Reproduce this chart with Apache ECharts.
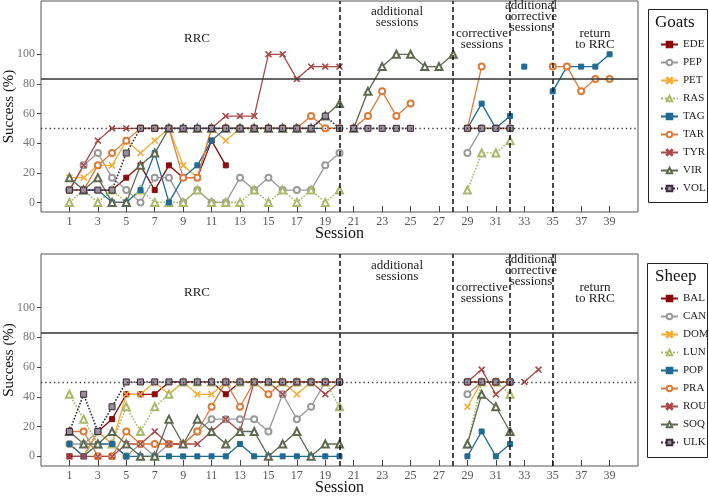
<!DOCTYPE html>
<html>
<head>
<meta charset="utf-8">
<script src="https://cdn.jsdelivr.net/npm/echarts@6/dist/echarts.min.js"></script>
<style>
html, body { margin: 0; padding: 0; background: #fff; }
#chart { width: 709px; height: 498px; }
</style>
</head>
<body>
<div id="chart"></div>
<script>
const _ = null

// sessions and phases
const sessions = [1, 2, 3, 4, 5, 6, 7, 8, 9, 10, 11, 12, 13, 14, 15, 16, 17, 18, 19, 20,
    21, 22, 23, 24, 25, 26, 27, 28, 29, 30, 31, 32, 33, 34, 35, 36, 37, 38, 39]
const phaseStarts = [21, 29, 33, 35]
const phaseBounds = [20, 28, 32, 35]
const xTicks = [1, 3, 5, 7, 9, 11, 13, 15, 17, 19, 21, 23, 25, 27, 29, 31, 33, 35, 37, 39]
const yTicks = [0, 20, 40, 60, 80, 100]
const criterion = 83.3
const chance = 50

// goats                 1-20 | 21-28 | 29-32 | 33-34 | 35-39
const EDE = [8.3, 8.3, 8.3, 8.3, 16.7, 25, 8.3, 25, 16.7, 16.7, 41.7, 25, _, _, _, _, _, _, _, _,
    _, _, _, _, _, _, _, _, _, _, _, _, _, _, _, _, _, _, _]
const PEP = [8.3, 25, 33.3, 16.7, 8.3, 0, 16.7, 16.7, 0, 8.3, 0, 0, 16.7, 8.3, 16.7, 8.3, 8.3, 8.3, 25, 33.3,
    _, _, _, _, _, _, _, _, 33.3, 50, 50, 50, _, _, _, _, _, _, _]
const PET = [16.7, 16.7, 25, 25, 41.7, 33.3, 41.7, 50, 25, 16.7, 50, 41.7, 50, 50, 50, 50, 50, 50, 50, 50,
    _, _, _, _, _, _, _, _, 50, 50, 50, 50, _, _, _, _, _, _, _]
const RAS = [0, 8.3, 0, 8.3, 0, 8.3, 0, 0, 0, 8.3, 0, 0, 0, 8.3, 0, 8.3, 0, 8.3, 0, 8.3,
    _, _, _, _, _, _, _, _, 8.3, 33.3, 33.3, 41.7, _, _, _, _, _, _, _]
const TAG = [8.3, 8.3, 8.3, 0, 0, 8.3, 33.3, 0, 16.7, 25, 41.7, 50, 50, 50, 50, 50, 50, 50, 50, 50,
    _, _, _, _, _, _, _, _, 50, 66.7, 50, 58.3, 91.7, _, 75, 91.7, 91.7, 91.7, 100]
const TAR = [8.3, 8.3, 25, 33.3, 41.7, 50, 50, 50, 16.7, 16.7, 50, 50, 50, 50, 50, 50, 50, 58.3, 50, 50,
    50, 58.3, 75, 58.3, 66.7, _, _, _, 50, 91.7, _, _, _, _, 91.7, 91.7, 75, 83.3, 83.3]
const TYR = [8.3, 25, 41.7, 50, 50, 50, 50, 50, 50, 50, 50, 58.3, 58.3, 58.3, 100, 100, 83.3, 91.7, 91.7, 91.7,
    _, _, _, _, _, _, _, _, _, _, _, _, _, _, _, _, _, _, _]
const VIR = [16.7, 8.3, 16.7, 0, 0, 25, 33.3, 50, 50, 50, 50, 50, 50, 50, 50, 50, 50, 50, 58.3, 66.7,
    50, 75, 91.7, 100, 100, 91.7, 91.7, 100, _, _, _, _, _, _, _, _, _, _, _]
const VOL = [8.3, 8.3, 8.3, 8.3, 33.3, 50, 50, 50, 50, 50, 50, 50, 50, 50, 50, 50, 50, 50, 58.3, 50,
    50, 50, 50, 50, 50, _, _, _, 50, 50, 50, 50, _, _, _, _, _, _, _]

// sheep
const BAL = [0, 0, 16.7, 25, 41.7, 41.7, 41.7, 50, 50, 50, 50, 41.7, 50, 50, 50, 50, 50, 50, 50, 50,
    _, _, _, _, _, _, _, _, 50, 50, 50, 50, _, _, _, _, _, _, _]
const CAN = [8.3, 8.3, 16.7, 8.3, 0, 8.3, 0, 8.3, 8.3, 16.7, 25, 25, 25, 25, 16.7, 41.7, 25, 33.3, 50, 50,
    _, _, _, _, _, _, _, _, 41.7, 50, 50, 50, _, _, _, _, _, _, _]
const DOM = [8.3, 0, 16.7, 8.3, 41.7, 41.7, 50, 41.7, 50, 41.7, 41.7, 50, 50, 50, 50, 50, 41.7, 50, 50, 50,
    _, _, _, _, _, _, _, _, 33.3, 50, 50, 50, _, _, _, _, _, _, _]
const LUN = [41.7, 25, 8.3, 8.3, 33.3, 16.7, 33.3, 41.7, 50, 50, 50, 50, 50, 50, 50, 50, 50, 50, 50, 33.3,
    _, _, _, _, _, _, _, _, 8.3, 50, 50, 41.7, _, _, _, _, _, _, _]
const POP = [8.3, 0, 8.3, 8.3, 0, 0, 0, 0, 0, 0, 0, 0, 8.3, 0, 0, 0, 0, 0, 0, 0,
    _, _, _, _, _, _, _, _, 0, 16.7, 0, 8.3, _, _, _, _, _, _, _]
const PRA = [16.7, 16.7, 0, 0, 16.7, 8.3, 8.3, 8.3, 8.3, 16.7, 33.3, 50, 33.3, 50, 41.7, 50, 50, 50, 50, 50,
    _, _, _, _, _, _, _, _, 50, 50, 50, 50, _, _, _, _, _, _, _]
const ROU = [0, 0, 0, 0, 8.3, 8.3, 16.7, 8.3, 8.3, 8.3, 16.7, 25, 16.7, 50, 50, 41.7, 50, 50, 41.7, 50,
    _, _, _, _, _, _, _, _, 50, 58.3, 41.7, 50, 50, 58.3, _, _, _, _, _]
const SOQ = [16.7, 8.3, 8.3, 16.7, 8.3, 0, 0, 25, 8.3, 25, 16.7, 8.3, 16.7, 16.7, 0, 8.3, 16.7, 0, 8.3, 8.3,
    _, _, _, _, _, _, _, _, 8.3, 41.7, 33.3, 16.7, _, _, _, _, _, _, _]
const ULK = [16.7, 41.7, 16.7, 33.3, 50, 50, 50, 50, 50, 50, 50, 50, 50, 50, 50, 50, 50, 50, 50, 50,
    _, _, _, _, _, _, _, _, 50, 50, 50, 50, _, _, _, _, _, _, _]

const goats = { EDE, PEP, PET, RAS, TAG, TAR, TYR, VIR, VOL }
const sheep = { BAL, CAN, DOM, LUN, POP, PRA, ROU, SOQ, ULK }

// 9 styles, same order for both panels
const X_PATH = 'path://M0,1L1,0L5,4L9,0L10,1L6,5L10,9L9,10L5,6L1,10L0,9L4,5Z'
const styles = [
    { color: '#8b0b0b', symbol: 'rect', size: 5 },
    { color: '#9a9a9a', symbol: 'emptyCircle', size: 6 },
    { color: '#f6ac33', symbol: X_PATH, size: 6 },
    { color: '#a9ba6a', symbol: 'emptyTriangle', size: 7, dotted: true },
    { color: '#1f6b94', symbol: 'rect', size: 5 },
    { color: '#dc7b3a', symbol: 'emptyCircle', size: 6 },
    { color: '#a94848', symbol: X_PATH, size: 6 },
    { color: '#5e6a50', symbol: 'emptyTriangle', size: 7 },
    { color: '#3b2a3b', symbol: 'rect', size: 6, dotted: true, fill: '#9a8f9a' }
]

const FONT = 'Liberation Serif'

const toPoints = values => {
    const pts = []
    values.forEach((v, i) => {
        const s = sessions[i]
        if (phaseStarts.includes(s)) pts.push([s - 0.5, '-'])
        pts.push([s, v === null ? '-' : v])
    })
    return pts
}

const makeSeries = (group, gi) => Object.keys(group).map((name, k) => {
    const st = styles[k]
    return {
        name,
        type: 'line',
        xAxisIndex: gi,
        yAxisIndex: gi,
        data: toPoints(group[name]),
        connectNulls: false,
        symbol: st.symbol,
        symbolSize: st.size,
        showAllSymbol: true,
        lineStyle: { color: st.color, width: st.dotted ? 1.6 : 1.3, type: st.dotted ? 'dotted' : 'solid' },
        itemStyle: { color: st.fill || st.color, borderColor: st.color, borderWidth: 1 },
        z: 3
    }
})

const refSeries = gi => ({
    type: 'line',
    xAxisIndex: gi,
    yAxisIndex: gi,
    data: [],
    markLine: {
        silent: true,
        symbol: 'none',
        label: { show: false },
        animation: false,
        data: [
            ...phaseBounds.map(b => ({ xAxis: b, lineStyle: { color: '#111', width: 1.5, type: [5, 3] } })),
            { yAxis: criterion, lineStyle: { color: '#333', width: 1.5, type: 'solid' } },
            { yAxis: chance, lineStyle: { color: '#333', width: 1.3, type: [1.3, 3] } }
        ]
    },
    z: 5
})

const xAxisOf = gi => ({
    type: 'value', gridIndex: gi, min: -1, max: 41,
    axisLine: { show: false, onZero: false },
    axisTick: { show: true, inside: true, length: 6, customValues: xTicks, lineStyle: { color: '#444' } },
    axisLabel: { customValues: xTicks, margin: 4, color: '#555', fontFamily: FONT, fontSize: 12 },
    splitLine: { show: false },
    name: 'Session', nameLocation: 'middle', nameGap: 14, nameMoveOverlap: false,
    nameTextStyle: { fontFamily: FONT, fontSize: 16, color: '#111' }
})

const yAxisOf = gi => ({
    type: 'value', gridIndex: gi, min: -6.5, max: 136,
    axisLine: { show: false, onZero: false },
    axisTick: { show: true, length: 4, customValues: yTicks, lineStyle: { color: '#444' } },
    axisLabel: { customValues: yTicks, margin: 6, color: '#777', fontFamily: FONT, fontSize: 12 },
    splitLine: { show: false },
    name: 'Success (%)', nameLocation: 'middle', nameGap: 24, nameMoveOverlap: false,
    nameTextStyle: { fontFamily: FONT, fontSize: 15, color: '#111' }
})

const legendOf = (names, top) => ({
    data: names, left: 655, top, orient: 'vertical', selectedMode: false,
    itemWidth: 17, itemHeight: 7, itemGap: 7,
    textStyle: { fontFamily: FONT, fontSize: 11, color: '#222' }
})

// phase labels (top panel positions; bottom panel shifted down)
const phaseLabels = [
    { text: 'RRC', x: 197, y: 39 },
    { text: 'additional\nsessions', x: 397, y: 17.5 },
    { text: 'corrective\nsessions', x: 482, y: 39.5 },
    { text: 'additional\ncorrective\nsessions', x: 531, y: 17 },
    { text: 'return\nto RRC', x: 595, y: 39.5 }
]
const panelShift = [0, 254]

const textEl = (text, x, y, size) => ({
    type: 'text', x, y, z: 10,
    style: { text, fontFamily: FONT, fontSize: size, lineHeight: 11, fill: '#222', align: 'center', verticalAlign: 'middle' }
})

const graphics = []
panelShift.forEach(dy => {
    phaseLabels.forEach(l => graphics.push(textEl(l.text, l.x, l.y + dy, 13)))
})
graphics.push({ type: 'rect', shape: { x: 648.5, y: 9.5, width: 59, height: 193 }, style: { fill: 'none', stroke: '#222', lineWidth: 1 } })
graphics.push({ type: 'rect', shape: { x: 647.5, y: 263.5, width: 60, height: 194 }, style: { fill: 'none', stroke: '#222', lineWidth: 1 } })
graphics.push({ type: 'text', x: 655, y: 23, style: { text: 'Goats', fontFamily: FONT, fontSize: 17, fill: '#111', verticalAlign: 'middle' } })
graphics.push({ type: 'text', x: 655, y: 277, style: { text: 'Sheep', fontFamily: FONT, fontSize: 17, fill: '#111', verticalAlign: 'middle' } })

const chart = echarts.init(document.getElementById('chart'))
chart.setOption({
    animation: false,
    backgroundColor: '#fff',
    grid: [
        { left: 41, right: 71, top: 1, height: 211, show: true, borderColor: '#555', borderWidth: 1, containLabel: false, outerBoundsMode: 'none' },
        { left: 41, right: 71, top: 254, height: 212, show: true, borderColor: '#555', borderWidth: 1, containLabel: false, outerBoundsMode: 'none' }
    ],
    xAxis: [xAxisOf(0), xAxisOf(1)],
    yAxis: [yAxisOf(0), yAxisOf(1)],
    legend: [legendOf(Object.keys(goats), 34), legendOf(Object.keys(sheep), 288)],
    graphic: graphics,
    series: [
        refSeries(0), refSeries(1),
        ...makeSeries(goats, 0),
        ...makeSeries(sheep, 1)
    ]
})
</script>
</body>
</html>
